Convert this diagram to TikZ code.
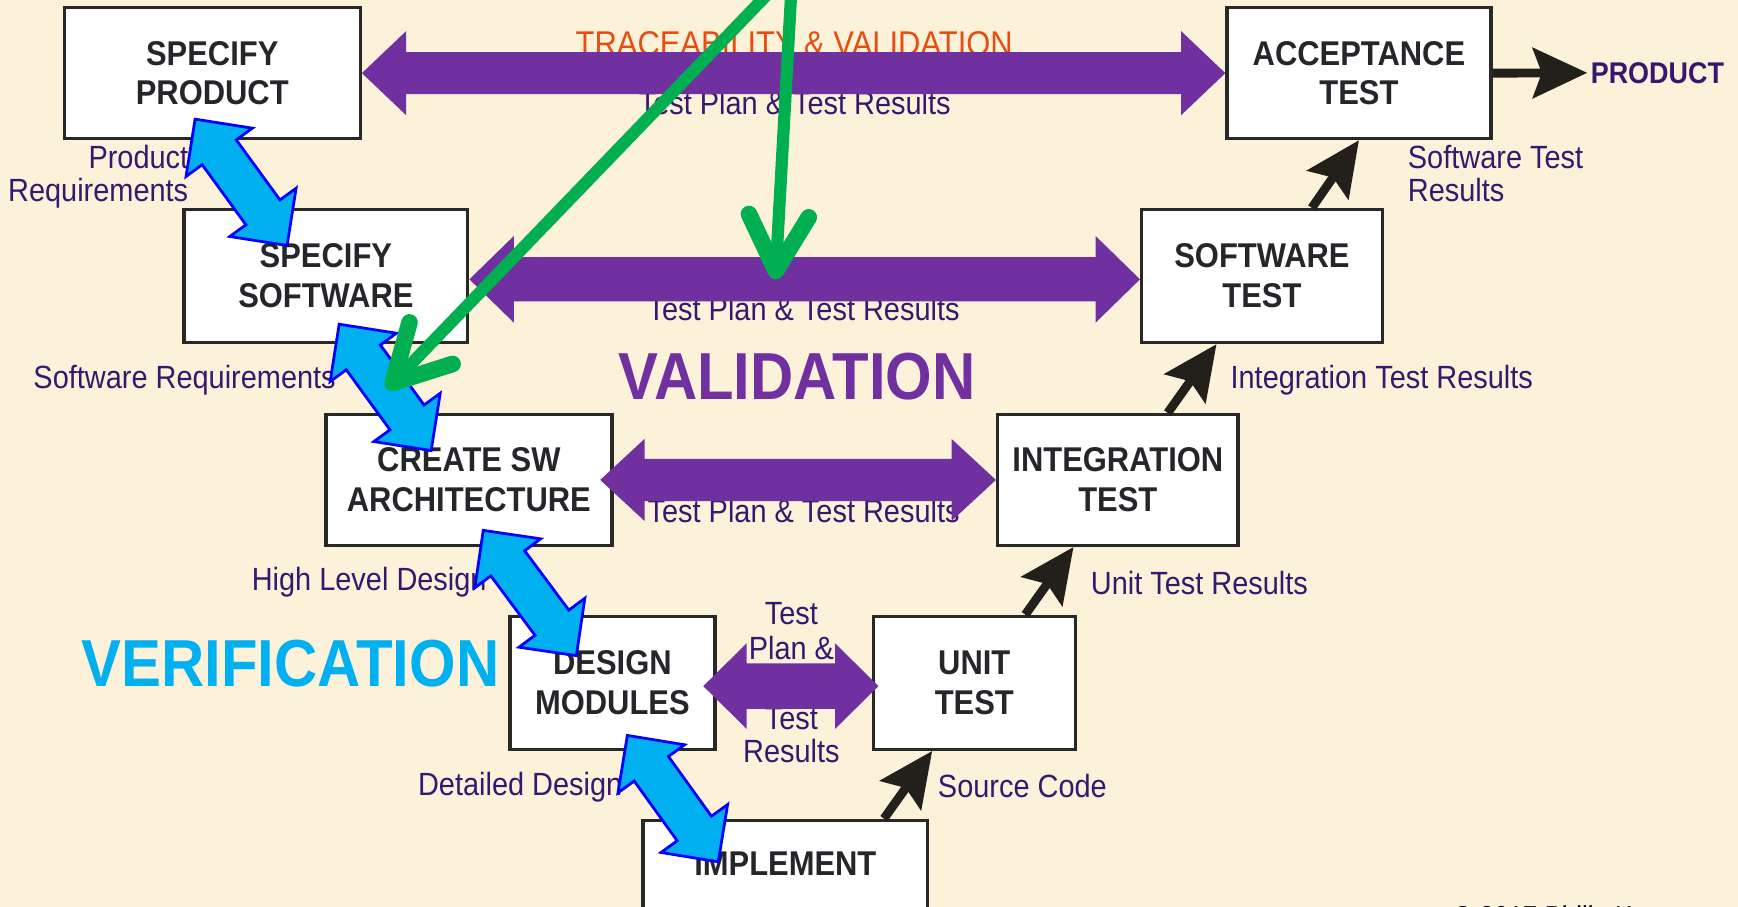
\documentclass[tikz,border=0pt]{standalone}
\usepackage{fontspec}
\setmainfont[FakeStretch=0.9]{Liberation Sans}
\usetikzlibrary{calc,arrows.meta}

\definecolor{bgcream}{RGB}{252,242,218}
\definecolor{boxgray}{RGB}{40,40,40}
\definecolor{boxtext}{RGB}{36,38,42}
\definecolor{lblpurple}{RGB}{56,24,110}
\definecolor{trorange}{RGB}{232,76,14}
\definecolor{vpurple}{RGB}{112,48,160}
\definecolor{vcyan}{RGB}{0,176,240}
\definecolor{vblue}{RGB}{0,0,255}
\definecolor{arrowblk}{RGB}{35,31,26}
\definecolor{grn}{RGB}{0,176,80}

\tikzset{
    box/.style={draw=boxgray, line width=3pt, fill=white, text=boxtext, align=center,
        inner sep=0pt, font=\bfseries\fontsize{31}{36}\selectfont},
    lbl/.style={text=lblpurple, inner sep=0pt, font=\fontsize{29}{30}\selectfont},
    bigtitle/.style={inner sep=0pt, font=\bfseries\fontsize{60}{60}\selectfont},
    blk/.style={draw=arrowblk, line width=8pt, -{Stealth[length=49pt,width=45pt,inset=8pt]}},
    grnarrow/.style={draw=grn, line width=11pt, line cap=round,
        -{Straight Barb[length=50pt,width=54pt,line width=15pt,round]}},
    vfill/.style={fill=vpurple},
    cfill/.style={fill=vcyan, draw=vblue, line width=2.5pt},
}

% double block arrow: style, from, to, head length, shaft half width, head half width
\newcommand\dblarrow[6]{%
    \coordinate (da) at (#2);
    \coordinate (db) at (#3);
    \coordinate (dah) at ($(da)!#4!(db)$);
    \coordinate (dbh) at ($(db)!#4!(da)$);
    \path[#1] (da) -- ($(dah)!#6!90:(db)$) -- ($(dah)!#5!90:(db)$)
        -- ($(dbh)!#5!-90:(da)$) -- ($(dbh)!#6!-90:(da)$) -- (db)
        -- ($(dbh)!#6!90:(da)$) -- ($(dbh)!#5!90:(da)$)
        -- ($(dah)!#5!-90:(db)$) -- ($(dah)!#6!-90:(db)$) -- cycle;
}

\begin{document}
\begin{tikzpicture}[x=1pt,y=-1pt]

    \useasboundingbox (0,0) rectangle (1568,818);
    \fill[bgcream] (0,0) rectangle (1568,818);

    % texts under the arrows
    \node[lbl, text=trorange, font=\fontsize{31}{32}\selectfont, anchor=base] (trace) at (716.5,50) {TRACEABILITY \& VALIDATION};
    \node[lbl, anchor=base] (tpr1) at (717,103) {Test Plan \& Test Results};
    \node[lbl, anchor=base] (tpr2) at (725,289) {Test Plan \& Test Results};
    \node[lbl, anchor=base] (tpr3) at (725,471) {Test Plan \& Test Results};
    \node[lbl, anchor=north, align=center, font=\fontsize{29}{32}\selectfont] (tpr4a) at (714,543) {Test\\Plan \&};
    \node[lbl, anchor=north, align=center] (tpr4b) at (714,638) {Test\\Results};

    \node[lbl, anchor=north east, align=right] (prodreq) at (170,130.5) {Product\\Requirements};
    \node[lbl, anchor=base west] (swreq) at (30,350.5) {Software Requirements};
    \node[lbl, anchor=base west] (hld) at (227,532.5) {High Level Design};
    \node[lbl, anchor=base west] (ddes) at (377,717.5) {Detailed Design};
    \node[lbl, anchor=north west, align=left] (swres) at (1270,130.5) {Software Test\\Results};
    \node[lbl, anchor=base west] (intres) at (1110,350.5) {Integration Test Results};
    \node[lbl, anchor=base west] (unitres) at (984,536.5) {Unit Test Results};
    \node[lbl, anchor=base west] (srccode) at (846,719.5) {Source Code};

    \node[bigtitle, text=vpurple] (valid) at (719,340) {VALIDATION};
    \node[bigtitle, text=vcyan] (verif) at (262,599) {VERIFICATION};
    \node[lbl, font=\bfseries\fontsize{27}{28}\selectfont, anchor=base west] (prodout) at (1435,75) {PRODUCT};
    \node[inner sep=0pt, font=\fontsize{26}{26}\selectfont, anchor=base west] (copy) at (1311,836) {© 2017 Philip Koopman};

    % boxes
    \node[box, minimum width=267pt, minimum height=118pt] (sprod) at (191.5,66) {SPECIFY\\PRODUCT};
    \node[box, minimum width=238pt, minimum height=118pt] (acc) at (1226,66) {ACCEPTANCE\\TEST};
    \node[box, minimum width=256pt, minimum height=120pt] (ssw) at (294,249) {SPECIFY\\SOFTWARE};
    \node[box, minimum width=217pt, minimum height=120pt] (swt) at (1138.5,249) {SOFTWARE\\TEST};
    \node[box, minimum width=258pt, minimum height=118pt] (arch) at (423,433) {CREATE SW\\ARCHITECTURE};
    \node[box, minimum width=217pt, minimum height=118pt] (intt) at (1008.5,433) {INTEGRATION\\TEST};
    \node[box, minimum width=185pt, minimum height=120pt] (dmod) at (552.5,616) {DESIGN\\MODULES};
    \node[box, minimum width=182pt, minimum height=120pt] (unit) at (879,616) {UNIT\\TEST};
    \node[box, minimum width=257pt, minimum height=120pt, text height=22pt, text depth=42pt] (impl) at (708.5,800) {IMPLEMENT};

    % test plan arrows
    \dblarrow{vfill}{sprod.east}{acc.west}{40pt}{19pt}{38pt}
    \dblarrow{vfill}{[yshift=-3pt]ssw.east}{[yshift=-3pt]swt.west}{40pt}{20pt}{39pt}
    \dblarrow{vfill}{[xshift=-12pt]arch.east}{intt.west}{40pt}{19pt}{37pt}
    \dblarrow{vfill}{[shift={(-12,3)}]dmod.east}{[shift={(6,3)}]unit.west}{39pt}{20.5pt}{38.5pt}

    % verification arrows
    \coordinate (c1a) at ([shift={(-15.5,-19)}]sprod.south);
    \coordinate (c1b) at ([shift={(-35,34)}]ssw.north);
    \coordinate (c2a) at ([shift={(12,-18)}]ssw.south);
    \coordinate (c2b) at ([shift={(-34,34)}]arch.north);
    \coordinate (c3a) at ([shift={(13,-15)}]arch.south);
    \coordinate (c3b) at ([shift={(-32.5,37)}]dmod.north);
    \coordinate (c4a) at ([shift={(13.5,-14)}]dmod.south);
    \coordinate (c4b) at ([shift={(-60.5,39)}]impl.north);
    \dblarrow{cfill}{c1a}{c1b}{37pt}{19pt}{37pt}
    \dblarrow{cfill}{c2a}{c2b}{37pt}{19pt}{37pt}
    \dblarrow{cfill}{c3a}{c3b}{37pt}{19pt}{37pt}
    \dblarrow{cfill}{c4a}{c4b}{37pt}{19pt}{37pt}

    % results going up
    \draw[blk] ([xshift=45pt]swt.north) -- (acc.south);
    \draw[blk] ([xshift=45pt]intt.north) -- ([xshift=-41pt]swt.south);
    \draw[blk] ([xshift=46pt]unit.north) -- ([xshift=-40pt]intt.south);
    \draw[blk] ([xshift=89pt]impl.north) -- ([xshift=-38pt]unit.south);
    \draw[blk] (acc.east) -- ([xshift=-3pt]prodout.west);

    % traceability
    \coordinate (g1s) at (697,-10);
    \coordinate (g1e) at (349,351);
    \coordinate (g2s) at (714,-10);
    \coordinate (g2e) at (699.5,252);
    \draw[grnarrow] (g1s) -- (g1e);
    \draw[grnarrow] (g2s) -- (g2e);

\end{tikzpicture}
\end{document}
